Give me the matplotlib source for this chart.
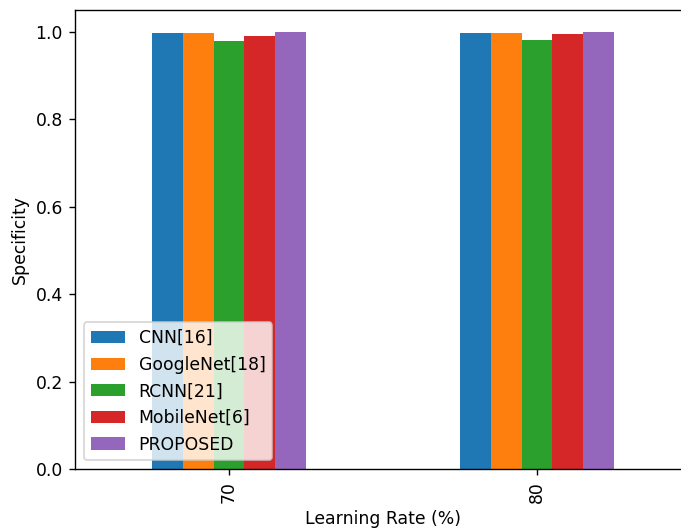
import matplotlib
matplotlib.use("Agg")
import matplotlib.pyplot as plt
import numpy as np

rates = ["70", "80"]
models = ["CNN[16]", "GoogleNet[18]", "RCNN[21]", "MobileNet[6]", "PROPOSED"]
cnn = [0.997, 0.997]
googlenet = [0.998, 0.998]
rcnn = [0.979, 0.982]
mobilenet = [0.991, 0.994]
proposed = [0.9995, 0.9995]

series = [cnn, googlenet, rcnn, mobilenet, proposed]
colors = ['#1f77b4', '#ff7f0e', '#2ca02c', '#d62728', '#9467bd']

# rendered at a higher dpi so text and lines come out scaled like the reference
dpi = 124
fig, ax = plt.subplots(figsize=(681 / dpi, 530 / dpi), dpi=dpi)
# the right spine sits just outside the picture in the reference
fig.subplots_adjust(left=75 / 681, right=691 / 681, top=1 - 10 / 530, bottom=1 - 469 / 530)

x = np.arange(len(rates))
w = 0.5 / len(models)
for i, (vals, name) in enumerate(zip(series, models)):
    ax.bar(x + (i - 2) * w, vals, w, color=colors[i], label=name)

ax.set_xticks(x)
ax.set_xticklabels(rates, rotation=90)
ax.set_xlim(-0.5, 1.5)
ax.set_xlabel("Learning Rate (%)")
ax.set_ylabel("Specificity")
ax.legend(loc="lower left")

fig.savefig("out.png", dpi=dpi)
